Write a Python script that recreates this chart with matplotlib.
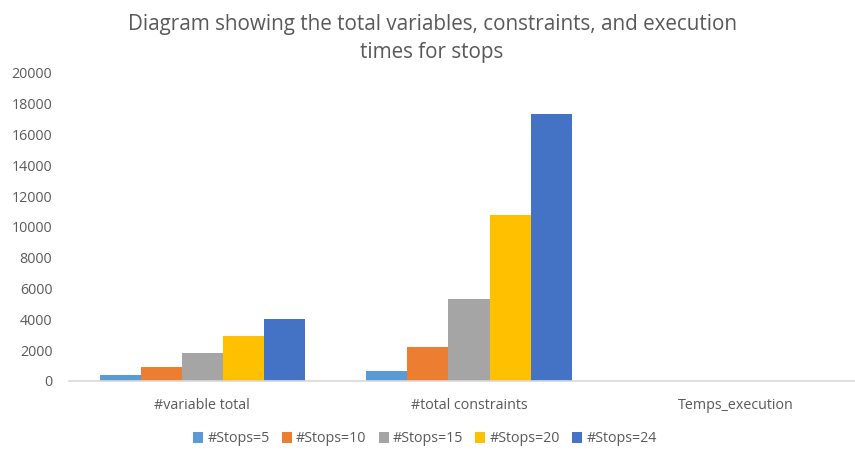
import numpy as np
import matplotlib.pyplot as plt

plt.rcParams['font.family'] = ['Open Sans', 'DejaVu Sans']

categories = ['#variable total', '#total constraints', 'Temps_execution']
series_names = ['#Stops=5', '#Stops=10', '#Stops=15', '#Stops=20', '#Stops=24']
stops_5 = [390, 650, 1]
stops_10 = [920, 2190, 2]
stops_15 = [1840, 5300, 4]
stops_20 = [2920, 10760, 7]
stops_24 = [4030, 17320, 12]
colors = ['#5B9BD5', '#ED7D31', '#A5A5A5', '#FFC000', '#4472C4']

values = [stops_5, stops_10, stops_15, stops_20, stops_24]
text_color = '#595959'

fig = plt.figure(figsize=(8.55, 4.53), dpi=100)
# plot area runs a little past the right edge of the figure
ax = fig.add_axes([69 / 855, 72 / 453, 800 / 855, 308 / 453])

x = np.arange(len(categories))
width = 0.154
for i, (name, vals) in enumerate(zip(series_names, values)):
    offset = (i - 2) * width
    ax.bar(x + offset, vals, width, color=colors[i], label=name)

ax.set_xlim(-0.5, 2.5)
ax.set_ylim(0, 20000)
ax.set_yticks(range(0, 20001, 2000))
ax.set_xticks(x)
ax.set_xticklabels(categories)

for side in ['top', 'right', 'left']:
    ax.spines[side].set_visible(False)
ax.spines['bottom'].set_color('#D9D9D9')
ax.spines['bottom'].set_linewidth(1.2)
ax.tick_params(axis='both', length=0, colors=text_color, labelsize=10.3)
ax.tick_params(axis='y', pad=12)
ax.tick_params(axis='x', pad=12)

fig.suptitle('Diagram showing the total variables, constraints, and execution\ntimes for stops',
             x=432 / 855, y=1 - 14 / 453, fontsize=14.9, color=text_color,
             va='top', linespacing=1.42)

leg = fig.legend(loc='center', bbox_to_anchor=(425 / 855, 1 - 439 / 453), ncol=5,
                 frameon=False, fontsize=10.3, handlelength=0.7, handleheight=0.7,
                 handletextpad=0.3, columnspacing=0.85, labelcolor=text_color)

fig.savefig('out.png', dpi=100)
